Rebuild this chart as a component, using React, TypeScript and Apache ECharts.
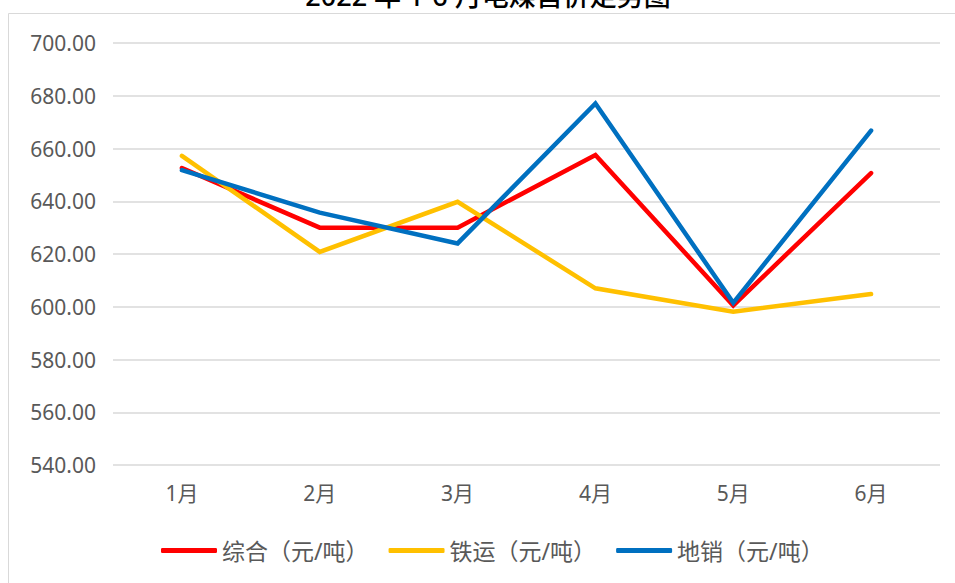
import React, { useEffect, useRef } from "react";
import * as echarts from "echarts";

const categories = ["1月", "2月", "3月", "4月", "5月", "6月"];
const seriesNames = ["综合（元/吨）", "铁运（元/吨）", "地销（元/吨）"];
const zongheValues = [652.6, 630, 630, 657.5, 600.5, 650.7];
const tieyunValues = [657.2, 620.8, 639.8, 607, 598.1, 604.8];
const dixiaoValues = [651.8, 635.7, 624, 677.1, 601.5, 666.8];
const seriesColors = ["#FF0000", "#FFC000", "#0070C0"];
const titleText = "2022 年 1-6 月电煤售价走势图";

const FONT = "'Noto Sans', 'Noto Sans CJK SC', sans-serif";

export default function App() {
  const ref = useRef<HTMLDivElement>(null);
  useEffect(() => {
    if (!ref.current) return;
    const chart = echarts.init(ref.current, undefined, { renderer: "svg" });
    const data = [zongheValues, tieyunValues, dixiaoValues];
    chart.setOption({
      animation: false,
      backgroundColor: "#ffffff",
      graphic: [
        {
          type: "rect",
          shape: { x: 8.5, y: 13.5, width: 1000, height: 1000 },
          style: { fill: "none", stroke: "#d9d9d9", lineWidth: 1 },
          z: -1,
        },
        {
          type: "text",
          x: 488,
          y: 9,
          style: {
            text: titleText,
            font: `500 27px ${FONT}`,
            fill: "#000000",
            textAlign: "center",
            textVerticalAlign: "bottom",
          },
        },
      ],
      grid: { left: 113, right: 15, top: 43, bottom: 118, containLabel: false },
      legend: {
        bottom: 16,
        left: 156,
        itemWidth: 56,
        itemHeight: 5,
        itemGap: 20,
        icon: "roundRect",
        textStyle: { fontSize: 23, color: "#595959", fontFamily: FONT },
        data: seriesNames,
      },
      xAxis: {
        type: "category",
        data: categories,
        boundaryGap: true,
        axisLine: { show: false },
        axisTick: { show: false },
        axisLabel: { color: "#595959", fontSize: 21, margin: 17, fontFamily: FONT },
      },
      yAxis: {
        type: "value",
        min: 540,
        max: 700,
        interval: 20,
        axisLine: { show: false },
        axisTick: { show: false },
        splitLine: { lineStyle: { color: "#d9d9d9", width: 1.5 } },
        axisLabel: {
          color: "#595959",
          fontSize: 21,
          margin: 17,
          fontFamily: FONT,
          formatter: (v: number) => v.toFixed(2),
        },
      },
      series: seriesNames.map((name, i) => ({
        name,
        type: "line",
        data: data[i],
        showSymbol: false,
        symbol: "none",
        lineStyle: { color: seriesColors[i], width: 4.5, cap: "round", join: "miter" },
        itemStyle: { color: seriesColors[i] },
      })),
    });
    return () => chart.dispose();
  }, []);
  return (
    <div
      ref={ref}
      style={{ position: "fixed", left: 0, top: 0, width: 955, height: 583 }}
    />
  );
}
